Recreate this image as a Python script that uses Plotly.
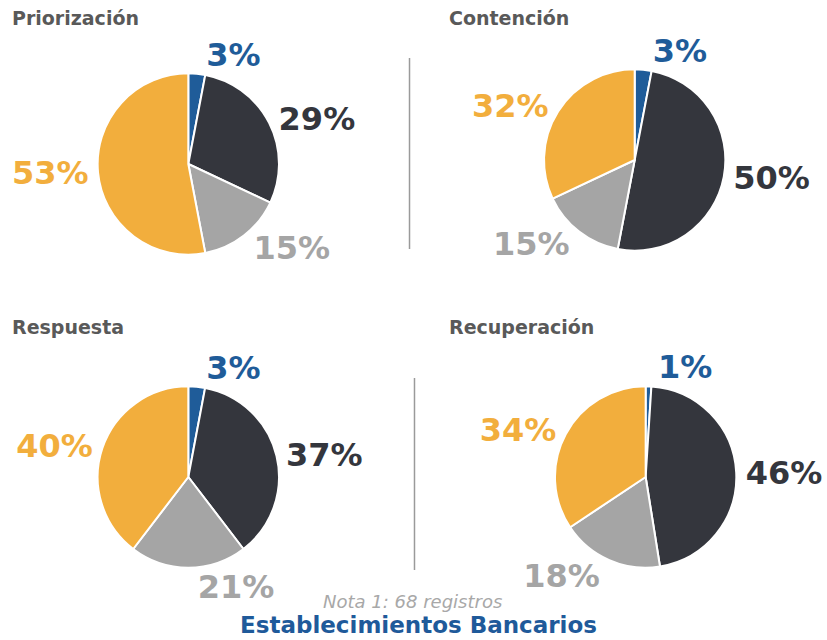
import plotly.graph_objects as go

# slice order: clockwise from 12 o'clock
categories = ["Azul", "Oscuro", "Gris", "Naranja"]
slice_colors = ["#1f5c99", "#34363d", "#a5a5a5", "#f2ae3d"]

priorizacion = [3, 29, 15, 53]
contencion = [3, 50, 15, 32]
respuesta = [3, 37, 21, 40]
recuperacion = [1, 46, 18, 34]

titles = ["Priorización", "Contención", "Respuesta", "Recuperación"]
note = "Nota 1: 68 registros"
footer = "Establecimientos Bancarios"

W, H = 827, 640
R = 91


def domain(cx, cy):
    """Square pie domain (paper units) for a pie centred at pixel cx, cy."""
    return dict(
        x=[(cx - R) / W, (cx + R) / W],
        y=[(H - cy - R) / H, (H - cy + R) / H],
    )


centres = [(189, 164), (637, 160), (189, 477), (648, 477)]
series = [priorizacion, contencion, respuesta, recuperacion]

fig = go.Figure()
for vals, (cx, cy) in zip(series, centres):
    fig.add_trace(
        go.Pie(
            labels=categories,
            values=vals,
            sort=False,
            direction="clockwise",
            rotation=0,
            domain=domain(cx, cy),
            marker=dict(colors=slice_colors, line=dict(color="white", width=2)),
            texttemplate="%{value}%",
            textposition="outside",
            outsidetextfont=dict(
                family="DejaVu Sans", size=32, color=slice_colors, weight="bold"
            ),
            hoverinfo="label+value",
            showlegend=False,
        )
    )

title_pos = [(10, 18), (449, 18), (10, 327), (449, 327)]
for t, (x, y) in zip(titles, title_pos):
    fig.add_annotation(
        text=t, x=x / W, y=1 - y / H, xref="paper", yref="paper",
        xanchor="left", yanchor="middle", showarrow=False,
        font=dict(family="DejaVu Sans", size=19, color="#595959", weight="bold"),
    )

fig.add_annotation(
    text=note, x=414 / W, y=1 - 614 / H, xref="paper", yref="paper",
    xanchor="center", yanchor="bottom", showarrow=False,
    font=dict(family="DejaVu Sans", size=18, color="#a8a8a8", style="italic"),
)
fig.add_annotation(
    text=footer, x=420 / W, y=0, xref="paper", yref="paper",
    xanchor="center", yanchor="bottom", showarrow=False,
    font=dict(family="DejaVu Sans", size=23, color="#1f5a9a", weight="bold"),
)

# divider lines between columns
for x, y0, y1 in [(411, 58, 249), (416, 378, 570)]:
    fig.add_shape(
        type="line", xref="paper", yref="paper",
        x0=x / W, x1=x / W, y0=1 - y0 / H, y1=1 - y1 / H,
        line=dict(color="#9a9a9a", width=1.5),
    )

fig.update_layout(
    width=W, height=H,
    margin=dict(l=0, r=0, t=0, b=0),
    paper_bgcolor="white",
    plot_bgcolor="white",
)
fig.write_html(
    "out.html",
    config={"displayModeBar": False},
    post_script="document.body.style.margin='0';",
)
